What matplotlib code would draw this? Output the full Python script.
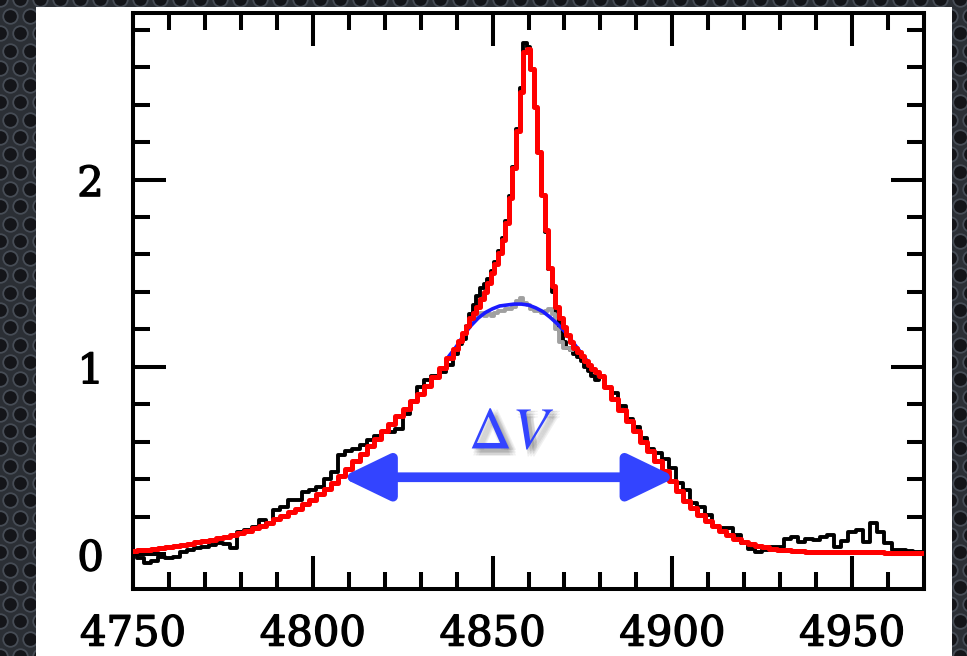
import matplotlib
matplotlib.use('Agg')
import matplotlib.pyplot as plt
import matplotlib.patheffects as pe
from matplotlib.patches import Rectangle, FancyArrowPatch
from matplotlib.ticker import MultipleLocator
import numpy as np

# wavelength grid: 2 A bins in the wings, 1 A bins in the core
wave_left = np.arange(4750, 4841, 2)
wave_core = np.arange(4841, 4880, 1)
wave_right = np.arange(4880, 4971, 2)

flux_left = [0.01, -0.02, -0.05, -0.04, -0.015, -0.02, -0.015, 0.01, 0.02, 0.03,
             0.035, 0.05, 0.06, 0.055, 0.03, 0.12, 0.13, 0.145, 0.18, 0.165,
             0.235, 0.25, 0.29, 0.29, 0.33,
             0.34, 0.36, 0.40, 0.44, 0.53, 0.55, 0.56, 0.58, 0.61, 0.63,
             0.65, 0.65, 0.67, 0.75, 0.81, 0.89, 0.93, 0.95, 0.97, 1.01, 1.07]
flux_core = [1.12, 1.15, 1.22, 1.28, 1.33, 1.38, 1.42, 1.44, 1.47, 1.51,
             1.56, 1.62, 1.69, 1.78, 1.91, 2.07, 2.27, 2.49, 2.73, 2.71,
             2.59, 2.39, 2.15, 1.92, 1.72, 1.52, 1.40, 1.27, 1.19, 1.13,
             1.10, 1.09, 1.07, 1.05, 1.03, 1.00, 0.98, 0.95, 0.93]
flux_right = [0.95, 0.89, 0.86, 0.79, 0.72, 0.68, 0.62, 0.56, 0.54, 0.51,
              0.46, 0.38, 0.34, 0.27, 0.25, 0.21, 0.15, 0.14, 0.14, 0.10,
              0.06, 0.025, 0.01, 0.02, 0.04, 0.04, 0.08, 0.09, 0.065, 0.08,
              0.075, 0.09, 0.10, 0.04, 0.07, 0.12, 0.13, 0.065, 0.165, 0.12,
              0.06, 0.02, 0.02, 0.015, 0.01, 0.01]

model_left = [0.015, 0.02, 0.024, 0.028, 0.034, 0.04, 0.045, 0.05, 0.056, 0.063,
              0.07, 0.077, 0.084, 0.092, 0.10, 0.112, 0.124, 0.137, 0.152, 0.168,
              0.185, 0.203, 0.222, 0.243, 0.265,
              0.29, 0.318, 0.347, 0.38, 0.415, 0.455, 0.495, 0.535, 0.575, 0.615,
              0.655, 0.695, 0.735, 0.775, 0.815, 0.855, 0.895, 0.945, 0.995, 1.045, 1.095]
model_core = [1.14, 1.18, 1.22, 1.26, 1.29, 1.32, 1.36, 1.40, 1.45, 1.50,
              1.55, 1.61, 1.68, 1.77, 1.90, 2.06, 2.26, 2.47, 2.68, 2.70,
              2.59, 2.39, 2.15, 1.92, 1.73, 1.53, 1.43, 1.32, 1.26, 1.21,
              1.17, 1.13, 1.10, 1.08, 1.06, 1.03, 1.01, 0.99, 0.97]
model_right = [0.95, 0.89, 0.83, 0.77, 0.71, 0.655, 0.60, 0.55, 0.495, 0.445,
               0.39, 0.335, 0.285, 0.245, 0.21, 0.175, 0.148, 0.122, 0.10, 0.082,
               0.066, 0.054, 0.044, 0.036, 0.029, 0.023, 0.019, 0.016, 0.014, 0.012,
               0.011, 0.010, 0.010, 0.009, 0.009, 0.009, 0.008, 0.008, 0.008, 0.008,
               0.007, 0.007, 0.007, 0.007, 0.006, 0.006]

# broad component (blue) and data minus narrow component (grey)
wave_broad = np.arange(4838, 4879, 2)
broad = [1.06, 1.11, 1.17, 1.22, 1.26, 1.29, 1.31, 1.325, 1.33, 1.335,
         1.335, 1.33, 1.315, 1.295, 1.265, 1.23, 1.19, 1.14, 1.09, 1.04, 0.99]
wave_resid = np.arange(4843, 4873, 1)
resid = [1.22, 1.25, 1.27, 1.28, 1.29, 1.27, 1.28, 1.27, 1.29, 1.30,
         1.30, 1.31, 1.31, 1.32, 1.35, 1.37, 1.34, 1.33, 1.31, 1.30,
         1.30, 1.29, 1.30, 1.31, 1.28, 1.20, 1.13, 1.10, 1.10, 1.09]

fwhm_lo, fwhm_hi, fwhm_y = 4808, 4901, 0.41

wave = np.concatenate([wave_left, wave_core, wave_right])
flux = np.concatenate([flux_left, flux_core, flux_right])
model = np.concatenate([model_left, model_core, model_right])

fig = plt.figure(figsize=(9.67, 6.56), dpi=100, facecolor='#2b2f35')

# dark perforated background + white card
bg = fig.add_axes([0, 0, 1, 1], zorder=-10)
bg.set_xlim(0, 967)
bg.set_ylim(0, 656)
bg.axis('off')
gx, gy = np.meshgrid(np.arange(0, 990, 20.0), np.arange(0, 680, 17.3))
gx[1::2] += 10
bg.scatter(gx.ravel(), gy.ravel(), s=110, c='#141519', edgecolors='#474d56', linewidths=1.3)
bg.add_patch(Rectangle((36, 0), 916, 649, facecolor='white', edgecolor='none', zorder=5))

ax = fig.add_axes([133 / 967, 1 - 589 / 656, (924 - 133) / 967, (589 - 13) / 656])
ax.set_facecolor('white')

ax.plot(wave, flux, drawstyle='steps-mid', color='black', lw=2.8, zorder=2)
ax.plot(wave_resid, resid, drawstyle='steps-mid', color='#a0a0a0', lw=2.8, zorder=3)
ax.plot(wave_broad, broad, color='#1a1aff', lw=2.6, zorder=4)
ax.plot(wave, model, drawstyle='steps-mid', color='#ff0000', lw=3.6, zorder=5)

arrow = FancyArrowPatch((fwhm_lo, fwhm_y), (fwhm_hi, fwhm_y),
                        arrowstyle='<|-|>,head_length=29,head_width=14',
                        mutation_scale=1, lw=7, color='#3344ff',
                        shrinkA=0, shrinkB=0, zorder=6)
ax.add_patch(arrow)

# soft shadow: a few faint offset copies
shadow = [pe.SimplePatchShadow(offset=(dx, dy), shadow_rgbFace='0.2', alpha=0.07)
          for dx in (1, 3, 5) for dy in (-1, -3, -5)]
ax.text(4855.4, 0.65, r'$\Delta V$', fontsize=43, color='#3344ff',
        math_fontfamily='stix', ha='center', va='center', zorder=7,
        path_effects=shadow + [pe.Normal()])

ax.set_xlim(4750, 4970)
ax.set_ylim(-0.187, 2.89)
ax.xaxis.set_major_locator(MultipleLocator(50))
ax.xaxis.set_minor_locator(MultipleLocator(10))
ax.yaxis.set_major_locator(MultipleLocator(1))
ax.yaxis.set_minor_locator(MultipleLocator(0.2))
ax.tick_params(which='both', direction='in', top=True, right=True, width=2.9, color='black')
ax.tick_params(which='major', length=24, labelsize=30)
ax.tick_params(axis='x', which='major', pad=17)
ax.tick_params(axis='y', which='major', pad=21)
ax.tick_params(which='minor', length=12)
for lab in ax.get_xticklabels() + ax.get_yticklabels():
    lab.set_family('DejaVu Serif')
    lab.set_path_effects([pe.withStroke(linewidth=1.0, foreground='black')])
for s in ax.spines.values():
    s.set_linewidth(2.9)

fig.savefig('out.png', dpi=100, facecolor=fig.get_facecolor())
